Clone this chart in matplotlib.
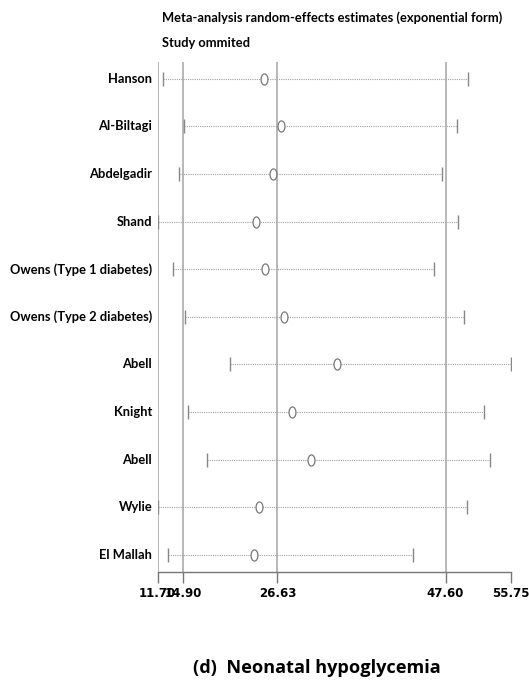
import numpy as np
import matplotlib
matplotlib.use('Agg')
from matplotlib import pyplot as plt

# study omitted -> estimate and CI (exponential form)
studies = ['Hanson', 'Al-Biltagi', 'Abdelgadir', 'Shand', 'Owens (Type 1 diabetes)',
           'Owens (Type 2 diabetes)', 'Abell', 'Knight', 'Abell', 'Wylie', 'El Mallah']
estimate = [24.96, 27.13, 26.04, 23.92, 25.04, 27.42, 34.03, 28.50, 30.79, 24.30, 23.76]
lower = [12.35, 14.97, 14.40, 11.70, 13.60, 15.10, 20.71, 15.56, 17.89, 11.75, 13.00]
upper = [50.43, 49.05, 47.18, 49.18, 46.18, 49.93, 55.75, 52.35, 53.10, 50.30, 43.48]

# reference lines and axis ticks
ref_lines = [11.70, 14.90, 26.63, 47.60]
tick_vals = [11.70, 14.90, 26.63, 47.60, 55.75]
tick_labels = ['11.70', '14.90', '26.63', '47.60', '55.75']

W, H = 529, 680
fig = plt.figure(figsize=(W / 100, H / 100), dpi=100)
ax = fig.add_axes([157.5 / W, 108 / H, (511 - 157.5) / W, (572 - 62) / H])

n = len(studies)
ypos = np.arange(n, 0, -1)

for v in ref_lines:
    ax.axvline(v, color='#ababab', lw=1.2, zorder=1)

# dotted CI lines
ax.hlines(ypos, lower, upper, colors='#a0a0a0', linestyles=(0, (1, 1)), lw=0.8, zorder=2)
# caps
ax.plot(lower, ypos, ls='none', marker='|', ms=10, mew=1.0, color='#888888', zorder=3)
ax.plot(upper, ypos, ls='none', marker='|', ms=10, mew=1.0, color='#888888', zorder=3)

# ellipse marker for estimates
t = np.linspace(0, 2 * np.pi, 60)
ell = np.column_stack([0.62 * np.cos(t), np.sin(t)])
ax.plot(estimate, ypos, ls='none', marker=ell, ms=8, mfc='white', mec='#777777', mew=0.9, zorder=4)

ax.set_xlim(11.70, 55.75)
ax.set_ylim(0.643, 11.35)

for s in ['top', 'right', 'left']:
    ax.spines[s].set_visible(False)
ax.spines['bottom'].set_color('#777777')
ax.spines['bottom'].set_linewidth(1.0)

ax.set_xticks(tick_vals)
ax.set_xticklabels(tick_labels, fontsize=8.5, fontweight='bold', family='DejaVu Sans')
ax.tick_params(axis='x', direction='out', length=8, width=1.0, color='#777777', pad=3)
ax.set_yticks([])

for y, name in zip(ypos, studies):
    ax.text(-0.015, y, name, transform=ax.get_yaxis_transform(), ha='right', va='center',
            fontsize=9.3, fontweight='bold', family='Lato')

fig.text(162 / W, 1 - 18 / H, 'Meta-analysis random-effects estimates (exponential form)',
         fontsize=9.3, fontweight='bold', family='Lato', ha='left', va='center')
fig.text(162 / W, 1 - 43 / H, 'Study ommited',
         fontsize=9.3, fontweight='bold', family='Lato', ha='left', va='center')

fig.text(317 / W, 1 - 668 / H, '(d)  Neonatal hypoglycemia',
         fontsize=13.1, fontweight='bold', family='Open Sans', ha='center', va='center')

fig.savefig('out.png', dpi=100)
